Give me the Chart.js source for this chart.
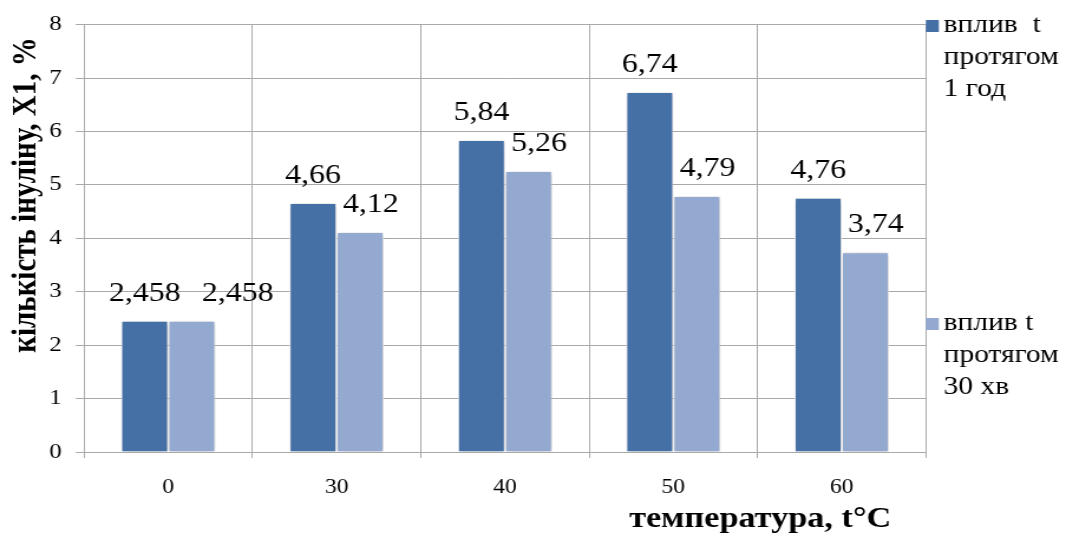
<!DOCTYPE html>
<html>
<head>
<meta charset="utf-8">
<script src="https://cdn.jsdelivr.net/npm/chart.js@4/dist/chart.umd.min.js"></script>
<style>
  html, body { margin: 0; padding: 0; background: #fff; overflow: hidden; }
  /* the drawing is laid out narrower and widened, giving the wide serif lettering */
  #wrap { position: absolute; left: 0; top: 0; width: 903px; height: 539px;
          transform: scaleX(1.1805); transform-origin: 0 0; }
</style>
</head>
<body>
<div id="wrap"><canvas id="c"></canvas></div>
<script>
// Temperatures (°C) on the x axis
const categories = ['0', '30', '40', '50', '60'];
// Inulin amount X1, % after exposure for 1 hour
const seriesHour = [2.458, 4.66, 5.84, 6.74, 4.76];
// Inulin amount X1, % after exposure for 30 minutes
const seriesHalfHour = [2.458, 4.12, 5.26, 4.79, 3.74];
const seriesNames = ['вплив  t протягом 1 год', 'вплив t протягом 30 хв'];
const legendLines = [['вплив  t', 'протягом', '1 год'], ['вплив t', 'протягом', '30 хв']];
const yTicks = [0, 1, 2, 3, 4, 5, 6, 7, 8];
const yTitle = 'кількість інуліну, Х1, %';
const xTitle = 'температура, t°C';

const SERIF = '"Liberation Serif", "DejaVu Serif", serif';
const GRID = '#a9a9a9';
const COLORS = ['#4470a6', '#94a9cf'];

const fmt = v => String(v).replace('.', ',');

// soft drop shadow behind the bars
const barShadow = {
  id: 'barShadow',
  beforeDatasetsDraw(chart) {
    const c = chart.ctx;
    c.save();
    c.shadowColor = 'rgba(0,0,0,0.28)';
    c.shadowBlur = 5;
    c.shadowOffsetX = 1;
    c.shadowOffsetY = 1;
  },
  afterDatasetsDraw(chart) { chart.ctx.restore(); }
};

// value labels above each bar
const valueLabels = {
  id: 'valueLabels',
  afterDatasetsDraw(chart) {
    const ctx = chart.ctx;
    const m0 = chart.getDatasetMeta(0), m1 = chart.getDatasetMeta(1);
    ctx.save();
    ctx.font = '27px ' + SERIF;
    ctx.fillStyle = '#000';
    ctx.textBaseline = 'middle';
    ctx.textAlign = 'left';
    m0.data.forEach((bar, i) => {
      const t0 = fmt(chart.data.datasets[0].data[i]);
      const w0 = ctx.measureText(t0).width;
      const x0 = bar.x - w0 / 2;
      const y0 = bar.y - 27;
      ctx.fillText(t0, x0, y0);

      const b1 = m1.data[i];
      const t1 = fmt(chart.data.datasets[1].data[i]);
      const w1 = ctx.measureText(t1).width;
      let x1 = b1.x - w1 / 2 + 9;
      const y1 = b1.y - 27;
      if (Math.abs(y1 - y0) < 27 && x1 < x0 + w0 + 18) x1 = x0 + w0 + 18;
      ctx.fillText(t1, x1, y1);
    });
    ctx.restore();
  }
};

// axis titles and the side legend
const decorations = {
  id: 'decorations',
  afterDraw(chart) {
    const ctx = chart.ctx;
    const area = chart.chartArea;
    ctx.save();
    ctx.fillStyle = '#000';

    // y axis title
    ctx.save();
    ctx.font = 'bold 29px ' + SERIF;
    ctx.textAlign = 'center';
    ctx.textBaseline = 'middle';
    ctx.translate(23, 195);
    ctx.rotate(-Math.PI / 2);
    ctx.fillText(yTitle, 0, 0);
    ctx.restore();

    // x axis title
    ctx.font = 'bold 29px ' + SERIF;
    ctx.textAlign = 'center';
    ctx.textBaseline = 'alphabetic';
    ctx.fillText(xTitle, 644, 527);

    // legend
    const tops = [20, 318];
    ctx.font = '25px ' + SERIF;
    ctx.textAlign = 'left';
    legendLines.forEach((lines, k) => {
      ctx.fillStyle = COLORS[k];
      ctx.fillRect(area.right, tops[k], 11, 12);
      ctx.fillStyle = '#000';
      lines.forEach((ln, j) => {
        ctx.fillText(ln, area.right + 15, tops[k] + 12 + j * 32);
      });
    });
    ctx.restore();
  }
};

new Chart(document.getElementById('c'), {
  type: 'bar',
  data: {
    labels: categories,
    datasets: [
      { label: seriesNames[0], data: seriesHour, backgroundColor: COLORS[0],
        borderColor: '#ffffff', borderWidth: 1 },
      { label: seriesNames[1], data: seriesHalfHour, backgroundColor: COLORS[1],
        borderColor: '#ffffff', borderWidth: 1 }
    ]
  },
  options: {
    responsive: true,
    maintainAspectRatio: false,
    animation: false,
    devicePixelRatio: 1,
    layout: { padding: { left: 0, right: 118.7, top: 22, bottom: 0 } },
    datasets: { bar: { categoryPercentage: 0.56, barPercentage: 1 } },
    plugins: { legend: { display: false }, tooltip: { enabled: false } },
    scales: {
      x: {
        grid: { offset: true, color: GRID, tickLength: 6 },
        border: { color: GRID },
        ticks: { color: '#000', font: { family: SERIF, size: 20 }, padding: 18 },
        afterFit(s) { s.height = 87; }
      },
      y: {
        min: yTicks[0],
        max: yTicks[yTicks.length - 1],
        afterBuildTicks(s) { s.ticks = yTicks.map(v => ({ value: v })); },
        grid: { color: GRID, tickLength: 7 },
        border: { color: GRID },
        ticks: { color: '#000', font: { family: SERIF, size: 21 }, padding: 12 },
        afterFit(s) { s.width = 71.2; }
      }
    }
  },
  plugins: [barShadow, valueLabels, decorations]
});
</script>
</body>
</html>
